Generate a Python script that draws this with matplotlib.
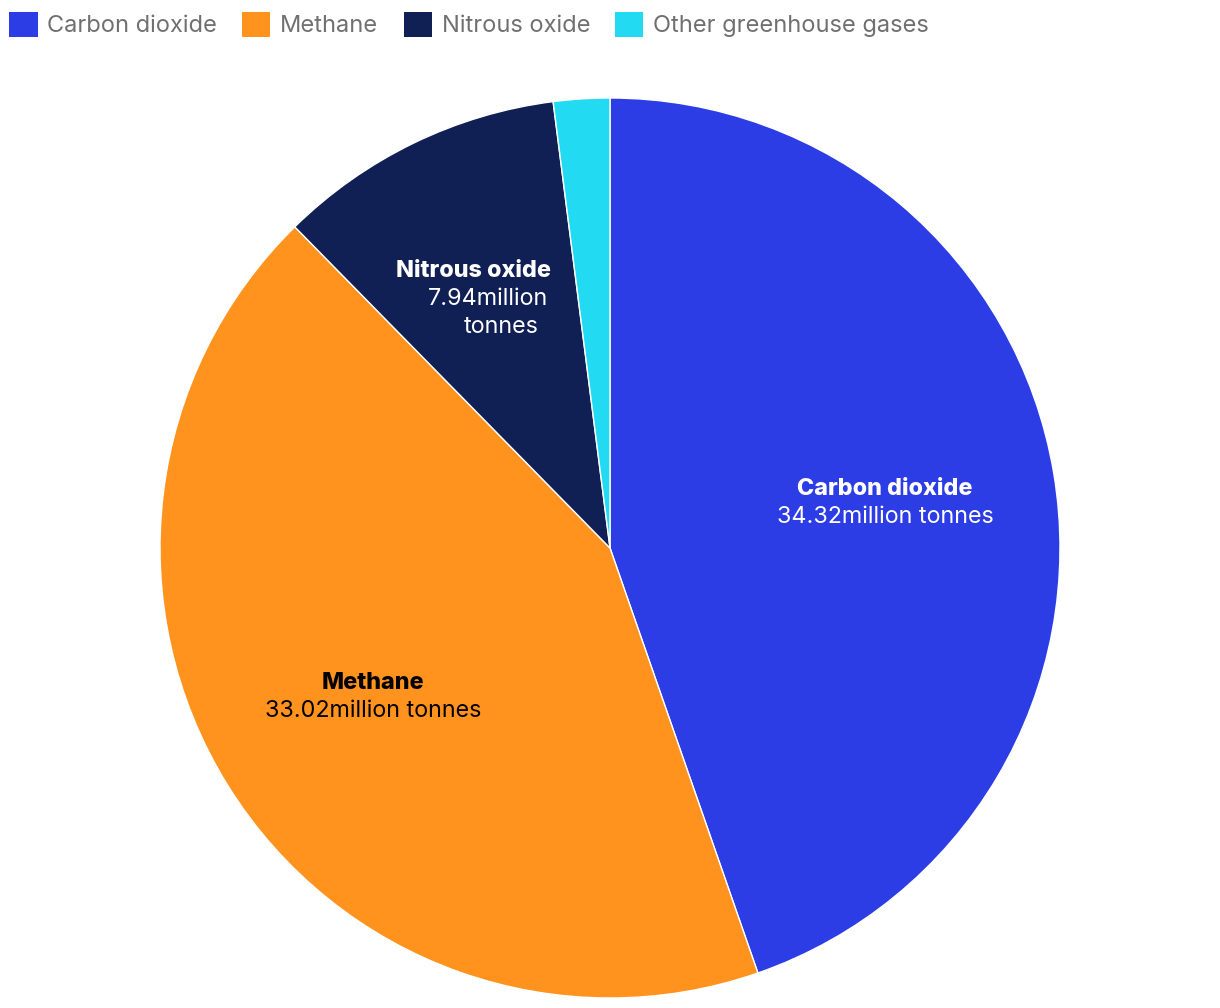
import matplotlib
matplotlib.use("Agg")
import matplotlib.pyplot as plt
from matplotlib.patches import Patch
import numpy as np

categories = ["Carbon dioxide", "Methane", "Nitrous oxide", "Other greenhouse gases"]
values = [34.32, 33.02, 7.94, 1.55]
value_labels = ["34.32million tonnes", "33.02million tonnes", "7.94million\ntonnes", None]
colors = ["#2c3de6", "#ff931e", "#101f54", "#22dbf3"]
text_colors = ["white", "black", "white", None]

plt.rcParams['font.family'] = ['Inter', 'DejaVu Sans']

fig = plt.figure(figsize=(12.2, 10.08), dpi=100)
ax = fig.add_axes([160/1220, 10/1008, 900/1220, 900/1008])
wedges, _ = ax.pie(values, colors=colors, startangle=90, counterclock=False,
                   wedgeprops=dict(edgecolor="white", linewidth=1))
ax.set_xlim(-1, 1)
ax.set_ylim(-1, 1)
ax.set_aspect("equal")
ax.axis("off")

fs = 16.8
# small per-line horizontal shifts (wrapped label lines in the original)
line_shift = {2: [-0.033, 0.0, 0.029]}
for k, (w, name, vl, tc) in enumerate(zip(wedges, categories, value_labels, text_colors)):
    if vl is None:
        continue
    mid = np.deg2rad((w.theta1 + w.theta2) / 2)
    r = 0.62
    x, y = r * np.cos(mid), r * np.sin(mid)
    lines = vl.split("\n")
    shifts = line_shift.get(k, [0.0] * (len(lines) + 1))
    lh = 0.0625
    total = (len(lines) + 1) * lh
    y0 = y + total / 2 - lh / 2 - 0.004
    ax.text(x + shifts[0], y0, name, ha="center", va="center", fontsize=fs,
            fontweight=800, color=tc)
    for i, line in enumerate(lines):
        ax.text(x + shifts[i + 1], y0 - (i + 1) * lh, line, ha="center", va="center",
                fontsize=fs, color=tc)

handles = [Patch(facecolor=c, edgecolor="none") for c in colors]
leg = fig.legend(handles, categories, loc="upper left", bbox_to_anchor=(0.0, 0.997), ncol=4,
                 frameon=False, fontsize=17, handlelength=1.19, handleheight=1.19,
                 handletextpad=0.42, columnspacing=1.06, borderaxespad=0.2,
                 borderpad=0.2)
for t in leg.get_texts():
    t.set_color("#707070")

fig.savefig("out.png", dpi=100)
